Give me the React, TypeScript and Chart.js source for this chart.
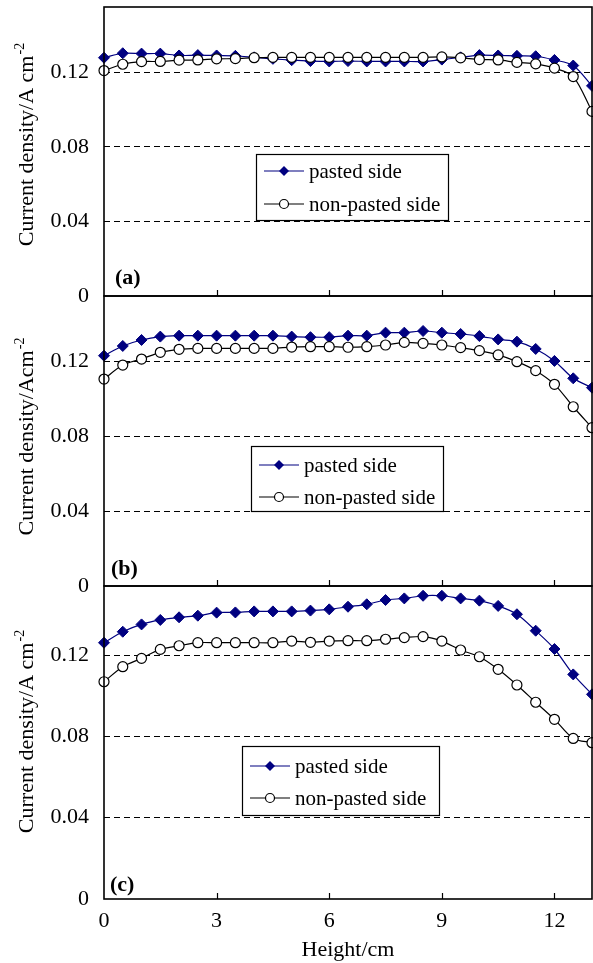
import React, { useEffect, useRef } from 'react';
import { Chart, registerables } from 'chart.js';

Chart.register(...registerables);

// ---------- data ----------
const heights = [0, 0.5, 1, 1.5, 2, 2.5, 3, 3.5, 4, 4.5, 5, 5.5, 6, 6.5, 7, 7.5, 8, 8.5, 9, 9.5, 10, 10.5, 11, 11.5, 12, 12.5, 13];
const xTickValues = [0, 3, 6, 9, 12];
const yTickValues = [0, 0.04, 0.08, 0.12];
const seriesNames = ['pasted side', 'non-pasted side'];
const xAxisTitle = 'Height/cm';

const pastedA = [0.1278, 0.1302, 0.1300, 0.1300, 0.1290, 0.1292, 0.1290, 0.1288, 0.1280, 0.1272, 0.1265, 0.1260, 0.1258, 0.1260, 0.1258, 0.1258, 0.1258, 0.1258, 0.1268, 0.1280, 0.1292, 0.1290, 0.1288, 0.1286, 0.1266, 0.1236, 0.1127];
const nonPastedA = [0.1209, 0.1243, 0.1257, 0.1258, 0.1265, 0.1266, 0.1272, 0.1273, 0.1278, 0.1280, 0.1280, 0.1280, 0.1280, 0.1280, 0.1280, 0.1280, 0.1280, 0.1280, 0.1282, 0.1277, 0.1268, 0.1266, 0.1253, 0.1245, 0.1222, 0.1177, 0.0990];

const pastedB = [0.1231, 0.1283, 0.1315, 0.1333, 0.1338, 0.1338, 0.1338, 0.1338, 0.1338, 0.1338, 0.1333, 0.1330, 0.1330, 0.1338, 0.1338, 0.1354, 0.1354, 0.1363, 0.1354, 0.1347, 0.1336, 0.1318, 0.1306, 0.1267, 0.1203, 0.1110, 0.1060];
const nonPastedB = [0.1106, 0.1181, 0.1213, 0.1249, 0.1265, 0.1270, 0.1270, 0.1270, 0.1270, 0.1270, 0.1277, 0.1279, 0.1279, 0.1276, 0.1279, 0.1288, 0.1302, 0.1297, 0.1288, 0.1274, 0.1258, 0.1235, 0.1199, 0.1151, 0.1078, 0.0958, 0.0846];

const pastedC = [0.1261, 0.1315, 0.1351, 0.1373, 0.1386, 0.1394, 0.1409, 0.1410, 0.1415, 0.1415, 0.1415, 0.1419, 0.1425, 0.1438, 0.1450, 0.1471, 0.1479, 0.1492, 0.1492, 0.1479, 0.1468, 0.1442, 0.1401, 0.1320, 0.1230, 0.1105, 0.1007];
const nonPastedC = [0.1069, 0.1143, 0.1184, 0.1228, 0.1246, 0.1261, 0.1261, 0.1261, 0.1261, 0.1261, 0.1269, 0.1263, 0.1269, 0.1271, 0.1271, 0.1278, 0.1286, 0.1291, 0.1269, 0.1225, 0.1192, 0.1130, 0.1053, 0.0968, 0.0884, 0.0790, 0.0769];

// ---------- layout / style ----------
const W = 593;
const H = 963;
const FONT = '"Liberation Serif", "Times New Roman", serif';
const NAVY = '#000080';

type Panel = {
  id: string;
  label: string;
  yTitle: string;
  pasted: number[];
  nonPasted: number[];
  top: number;
  bottom: number;
  yMax: number;
  showX: boolean;
  legend: { x: number; y: number; w: number; h: number; rows: number[] };
  labelPos: { x: number; y: number };
  titleY: number;
};

const panels: Panel[] = [
  {
    id: 'a', label: '(a)', yTitle: 'Current density/A cm', pasted: pastedA, nonPasted: nonPastedA,
    top: 7, bottom: 296, yMax: 0.155, showX: false,
    legend: { x: 256, y: 154, w: 192, h: 66, rows: [171, 204] },
    labelPos: { x: 115, y: 284 }, titleY: 145,
  },
  {
    id: 'b', label: '(b)', yTitle: 'Current density/Acm', pasted: pastedB, nonPasted: nonPastedB,
    top: 296, bottom: 586, yMax: 0.155, showX: false,
    legend: { x: 251, y: 446, w: 192, h: 65, rows: [465, 497] },
    labelPos: { x: 111, y: 575 }, titleY: 437,
  },
  {
    id: 'c', label: '(c)', yTitle: 'Current density/A cm', pasted: pastedC, nonPasted: nonPastedC,
    top: 586, bottom: 899, yMax: 0.154, showX: true,
    legend: { x: 242, y: 746, w: 197, h: 69, rows: [766, 798] },
    labelPos: { x: 110, y: 891 }, titleY: 732,
  },
];

function drawDiamond(ctx: CanvasRenderingContext2D, x: number, y: number, r: number) {
  ctx.beginPath();
  ctx.moveTo(x - r, y);
  ctx.lineTo(x, y - r);
  ctx.lineTo(x + r, y);
  ctx.lineTo(x, y + r);
  ctx.closePath();
  ctx.fillStyle = NAVY;
  ctx.fill();
}

function drawCircle(ctx: CanvasRenderingContext2D, x: number, y: number, r: number) {
  ctx.beginPath();
  ctx.arc(x, y, r, 0, Math.PI * 2);
  ctx.fillStyle = '#fff';
  ctx.fill();
  ctx.strokeStyle = '#000';
  ctx.lineWidth = 1.2;
  ctx.stroke();
}

function makeDecoPlugin(p: Panel) {
  return {
    id: 'deco_' + p.id,
    afterDatasetsDraw(chart: any) {
      const { ctx, chartArea: ca, scales } = chart;
      ctx.save();
      // inner tick marks on the bottom axis
      ctx.strokeStyle = '#000';
      ctx.lineWidth = 1.2;
      xTickValues.forEach((v) => {
        if (v === 0) return;
        const x = Math.round(scales.x.getPixelForValue(v)) + 0.5;
        ctx.beginPath();
        ctx.moveTo(x, ca.bottom);
        ctx.lineTo(x, ca.bottom - 6);
        ctx.stroke();
      });
      // frame
      ctx.lineWidth = 1.6;
      ctx.strokeRect(ca.left, ca.top, ca.right - ca.left, ca.bottom - ca.top);

      // legend
      const lg = p.legend;
      ctx.fillStyle = '#fff';
      ctx.fillRect(lg.x, lg.y, lg.w, lg.h);
      ctx.strokeStyle = '#000';
      ctx.lineWidth = 1.2;
      ctx.strokeRect(lg.x + 0.5, lg.y + 0.5, lg.w, lg.h);
      ctx.font = `21px ${FONT}`;
      ctx.textBaseline = 'middle';
      ctx.textAlign = 'left';
      lg.rows.forEach((ry, i) => {
        ctx.beginPath();
        ctx.moveTo(lg.x + 8, ry);
        ctx.lineTo(lg.x + 48, ry);
        ctx.strokeStyle = i === 0 ? NAVY : '#000';
        ctx.lineWidth = 1.2;
        ctx.stroke();
        if (i === 0) drawDiamond(ctx, lg.x + 28, ry, 5);
        else drawCircle(ctx, lg.x + 28, ry, 4.5);
        ctx.fillStyle = '#000';
        ctx.fillText(seriesNames[i], lg.x + 53, ry + 1);
      });

      // panel label
      ctx.font = `bold 22px ${FONT}`;
      ctx.textBaseline = 'alphabetic';
      ctx.fillStyle = '#000';
      ctx.fillText(p.label, p.labelPos.x, p.labelPos.y);

      // y-axis title with superscript
      ctx.translate(33, p.titleY);
      ctx.rotate(-Math.PI / 2);
      ctx.font = `22px ${FONT}`;
      const w1 = ctx.measureText(p.yTitle).width;
      ctx.font = `14px ${FONT}`;
      const w2 = ctx.measureText('-2').width;
      const start = -(w1 + w2) / 2;
      ctx.textAlign = 'left';
      ctx.textBaseline = 'alphabetic';
      ctx.font = `22px ${FONT}`;
      ctx.fillText(p.yTitle, start, 0);
      ctx.font = `14px ${FONT}`;
      ctx.fillText('-2', start + w1 + 1, -9);
      ctx.restore();
    },
  };
}

function PanelChart({ p }: { p: Panel }) {
  const ref = useRef<HTMLCanvasElement>(null);
  useEffect(() => {
    if (!ref.current) return;
    const chart = new Chart(ref.current, {
      type: 'line',
      data: {
        datasets: [
          {
            label: seriesNames[0],
            data: heights.map((h, i) => ({ x: h, y: p.pasted[i] })),
            borderColor: NAVY,
            backgroundColor: NAVY,
            borderWidth: 1.2,
            pointStyle: 'rectRot',
            pointRadius: 5.5,
            pointBorderWidth: 1,
            pointBackgroundColor: NAVY,
            pointBorderColor: NAVY,
            tension: 0.3,
            clip: false,
            order: 1,
          } as any,
          {
            label: seriesNames[1],
            data: heights.map((h, i) => ({ x: h, y: p.nonPasted[i] })),
            borderColor: '#000',
            backgroundColor: '#fff',
            borderWidth: 1.2,
            pointStyle: 'circle',
            pointRadius: 5,
            pointBorderWidth: 1.2,
            pointBackgroundColor: '#fff',
            pointBorderColor: '#000',
            tension: 0.3,
            clip: false,
            order: 0,
          } as any,
        ],
      },
      options: {
        animation: false,
        responsive: false,
        events: [],
        layout: {
          autoPadding: false,
          padding: { left: 0, right: W - 592, top: p.top, bottom: p.showX ? 0 : H - p.bottom },
        },
        plugins: { legend: { display: false }, tooltip: { enabled: false } },
        scales: {
          x: {
            type: 'linear',
            min: 0,
            max: 13,
            display: p.showX,
            afterBuildTicks: (s: any) => { s.ticks = xTickValues.map((v) => ({ value: v })); },
            afterFit: (s: any) => {
              s.height = p.showX ? 64 : 0;
              s.paddingLeft = 0;
              s.paddingRight = 0;
            },
            grid: { display: false, drawTicks: false },
            border: { display: false },
            ticks: { color: '#000', font: { family: FONT, size: 22 }, padding: 9, maxRotation: 0, autoSkip: false },
            title: { display: true, text: xAxisTitle, color: '#000', font: { family: FONT, size: 22 }, padding: { top: 0, bottom: 0 } },
          },
          y: {
            type: 'linear',
            min: 0,
            max: p.yMax,
            afterBuildTicks: (s: any) => { s.ticks = yTickValues.map((v) => ({ value: v })); },
            afterFit: (s: any) => { s.width = 104; s.paddingTop = 0; s.paddingBottom = 0; },
            grid: {
              color: (c: any) => (c.tick && c.tick.value === 0 ? 'rgba(0,0,0,0)' : '#000'),
              lineWidth: 1,
              drawTicks: false,
            },
            border: { display: false, dash: [6, 4] },
            ticks: {
              color: '#000',
              font: { family: FONT, size: 22 },
              padding: 15,
              callback: (v: any) => (v === 0 ? '0' : Number(v).toFixed(2)),
            },
          },
        },
      } as any,
      plugins: [makeDecoPlugin(p)],
    });
    return () => chart.destroy();
  }, [p]);
  return (
    <canvas
      ref={ref}
      width={W}
      height={H}
      style={{ position: 'absolute', left: 0, top: 0, width: W, height: H, display: 'block' }}
    />
  );
}

export default function App() {
  return (
    <div style={{ position: 'absolute', left: 0, top: 0, width: W, height: H, overflow: 'hidden', background: '#fff' }}>
      {panels.map((p) => (
        <PanelChart key={p.id} p={p} />
      ))}
    </div>
  );
}
